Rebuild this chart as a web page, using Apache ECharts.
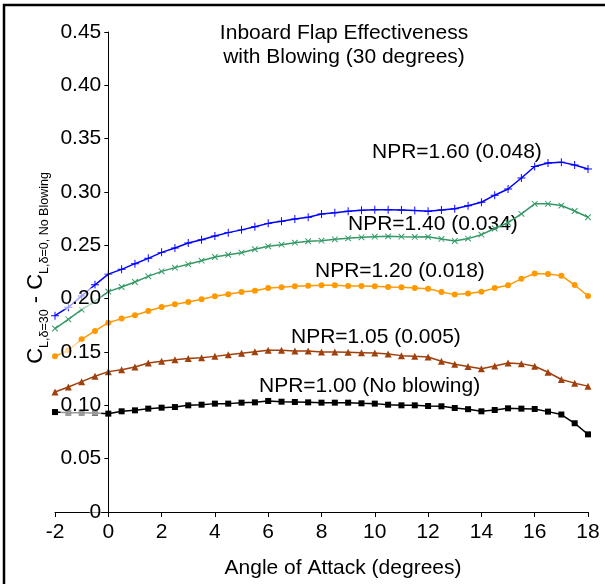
<!DOCTYPE html>
<html>
<head>
<meta charset="utf-8">
<script src="https://cdn.jsdelivr.net/npm/echarts@6/dist/echarts.min.js"></script>
<style>
html,body{margin:0;padding:0;background:#fff;}
#chart{width:605px;height:584px;}
</style>
</head>
<body>
<div id="chart"></div>
<script>
// Angle of attack (degrees)
var angles = [-2,-1.5,-1,-0.5,0,0.5,1,1.5,2,2.5,3,3.5,4,4.5,5,5.5,6,6.5,7,7.5,8,8.5,9,9.5,10,10.5,11,11.5,12,12.5,13,13.5,14,14.5,15,15.5,16,16.5,17,17.5,18];

var npr160 = [0.184,0.192,0.2025,0.213,0.223,0.2275,0.2328,0.2378,0.2434,0.2475,0.2522,0.2553,0.2588,0.2619,0.2645,0.2675,0.2706,0.2725,0.2747,0.2763,0.2794,0.2806,0.2819,0.2828,0.2834,0.2834,0.2831,0.2826,0.2820,0.2831,0.2842,0.2871,0.2904,0.2970,0.3028,0.3131,0.3239,0.3272,0.3280,0.3253,0.3216];
var npr140 = [0.172,0.1806,0.1897,0.1975,0.2066,0.2109,0.2156,0.2209,0.2256,0.2291,0.2322,0.2356,0.2391,0.2412,0.2431,0.2463,0.2491,0.2506,0.2525,0.2538,0.2544,0.2556,0.2566,0.2575,0.2581,0.2584,0.2581,0.2579,0.2580,0.2560,0.2541,0.2563,0.2600,0.2658,0.2712,0.2795,0.2889,0.2889,0.2873,0.2822,0.2763];
var npr120 = [0.1459,0.1516,0.1619,0.1697,0.1775,0.1813,0.1844,0.1884,0.1922,0.1947,0.1969,0.1994,0.2022,0.2041,0.2063,0.2075,0.2100,0.2106,0.2116,0.2122,0.2125,0.2125,0.2119,0.2119,0.2116,0.2109,0.2106,0.2100,0.2094,0.2063,0.2038,0.2049,0.2065,0.2099,0.2125,0.2186,0.2236,0.2232,0.2216,0.2128,0.2025];
var npr105 = [0.1125,0.1172,0.1222,0.1272,0.1316,0.1334,0.1359,0.1397,0.1413,0.1428,0.1438,0.1447,0.1459,0.1475,0.1488,0.1503,0.1516,0.1516,0.1509,0.1510,0.1500,0.1500,0.1497,0.1494,0.1491,0.1481,0.1466,0.1459,0.1453,0.1414,0.1386,0.1364,0.1344,0.1368,0.1397,0.1391,0.1366,0.1310,0.1242,0.1208,0.1180];
var npr100 = [0.0937,0.0931,0.0931,0.0928,0.0922,0.0944,0.0953,0.0969,0.0978,0.0984,0.1000,0.1006,0.1016,0.1016,0.1025,0.1028,0.1041,0.1034,0.1031,0.1028,0.1025,0.1025,0.1025,0.1019,0.1016,0.1006,0.1000,0.1000,0.0994,0.0991,0.0975,0.0964,0.0944,0.0956,0.0972,0.0969,0.0966,0.0941,0.0914,0.0832,0.0728];

var seriesNames = ['NPR=1.60 (0.048)','NPR=1.40 (0.034)','NPR=1.20 (0.018)','NPR=1.05 (0.005)','NPR=1.00 (No blowing)'];
var xTicks = {min:-2, max:18, step:2};
var yTicks = {min:0, max:0.45, step:0.05};

var FONT = '"Liberation Sans", Arial, Helvetica, sans-serif';
var FS = 21;
var plusPath = 'path://M4.4,0H5.6V4.4H10V5.6H5.6V10H4.4V5.6H0V4.4H4.4Z';

var W = 605, H = 584;
var gridL = 55, gridR = 17, gridT = 32, gridB = 72;
// y axis sits where x = 0 (offset from grid's left edge, negative = move right)
var yAxisOffset = -((0 - xTicks.min) / (xTicks.max - xTicks.min)) * (W - gridL - gridR);

function pairs(arr){ return arr.map(function(v,i){ return [angles[i], v]; }); }

function mkSeries(name, data, color, symbol, size, rot){
  return {
    name: name, type: 'line', data: pairs(data),
    symbol: symbol, symbolSize: size, symbolRotate: rot || 0,
    showSymbol: true,
    lineStyle: {color: color, width: 1.5},
    itemStyle: {color: color, borderWidth: 0},
    emphasis: {disabled: true},
    animation: false, z: 2
  };
}

function annot(text, x, y){
  return {type: 'text', x: x, y: y, silent: true,
    style: {text: text, font: FS + 'px ' + FONT, fill: '#000',
      align: 'left', verticalAlign: 'middle', textAlign: 'left', textVerticalAlign: 'middle'}};
}

var chart = echarts.init(document.getElementById('chart'), null, {renderer: 'canvas'});
chart.setOption({
  backgroundColor: '#ffffff',
  animation: false,
  textStyle: {fontFamily: FONT},
  title: {
    text: 'Inboard Flap Effectiveness\nwith Blowing (30 degrees)',
    left: 339, top: 16, textAlign: 'center',
    textStyle: {fontFamily: FONT, fontSize: FS, fontWeight: 'normal', color: '#000', lineHeight: 24}
  },
  grid: {left: gridL, right: gridR, top: gridT, bottom: gridB, containLabel: false, outerBoundsMode: 'none'},
  xAxis: {
    type: 'value', min: xTicks.min, max: xTicks.max, interval: xTicks.step,
    name: 'Angle of Attack (degrees)', nameLocation: 'middle', nameGap: 46,
    nameTextStyle: {fontFamily: FONT, fontSize: FS, color: '#000', padding: [0,0,0,43]},
    axisLine: {show: true, onZero: false, lineStyle: {color: '#000', width: 1}},
    axisTick: {show: true, inside: false, length: 5, lineStyle: {color: '#000'}},
    axisLabel: {fontFamily: FONT, fontSize: FS, color: '#000', margin: 10, showMinLabel: true, showMaxLabel: true},
    splitLine: {show: false}, z: 1
  },
  yAxis: {
    type: 'value', min: yTicks.min, max: yTicks.max, interval: yTicks.step,
    offset: yAxisOffset,
    axisLine: {show: true, onZero: false, lineStyle: {color: '#000', width: 1}},
    axisTick: {show: true, inside: false, length: 4, lineStyle: {color: '#000'}},
    axisLabel: {
      fontFamily: FONT, fontSize: FS, color: '#000', margin: 7,
      backgroundColor: 'rgba(255,255,255,0.6)',
      showMinLabel: true, showMaxLabel: true,
      formatter: function(v){ return v === 0 ? '0' : v.toFixed(2); }
    },
    splitLine: {show: false}, z: 5
  },
  graphic: [
    {type: 'rect', silent: true, shape: {x: 4, y: 5, width: 800, height: 800},
      style: {fill: 'none', stroke: '#000', lineWidth: 2.5}},
    {type: 'text', x: 36, y: 268, rotation: Math.PI/2, silent: true,
      style: {
        text: '{c|C}{s|L,δ=30}{c| - C}{s|L,δ=0, No Blowing}',
        x: 0, y: 0, align: 'center', verticalAlign: 'middle', textAlign: 'center', textVerticalAlign: 'middle',
        fill: '#000', font: '20px ' + FONT,
        rich: {
          c: {fontSize: 22, fontFamily: FONT, lineHeight: 30, verticalAlign: 'middle', fill: '#000'},
          s: {fontSize: 12.5, fontFamily: FONT, lineHeight: 14, verticalAlign: 'bottom', fill: '#000'}
        }
      }},
    annot(seriesNames[0], 372, 152),
    annot(seriesNames[1], 348, 224),
    annot(seriesNames[2], 315, 271),
    annot(seriesNames[3], 291, 337),
    annot(seriesNames[4], 259, 386)
  ],
  series: [
    mkSeries(seriesNames[0], npr160, '#0000FF', plusPath, 8, 0),
    mkSeries(seriesNames[1], npr140, '#339966', plusPath, 8, 45),
    mkSeries(seriesNames[2], npr120, '#FF9900', 'circle', 6, 0),
    mkSeries(seriesNames[3], npr105, '#A0400C', 'triangle', 7, 0),
    mkSeries(seriesNames[4], npr100, '#000000', 'rect', 6, 0)
  ]
});
</script>
</body>
</html>
